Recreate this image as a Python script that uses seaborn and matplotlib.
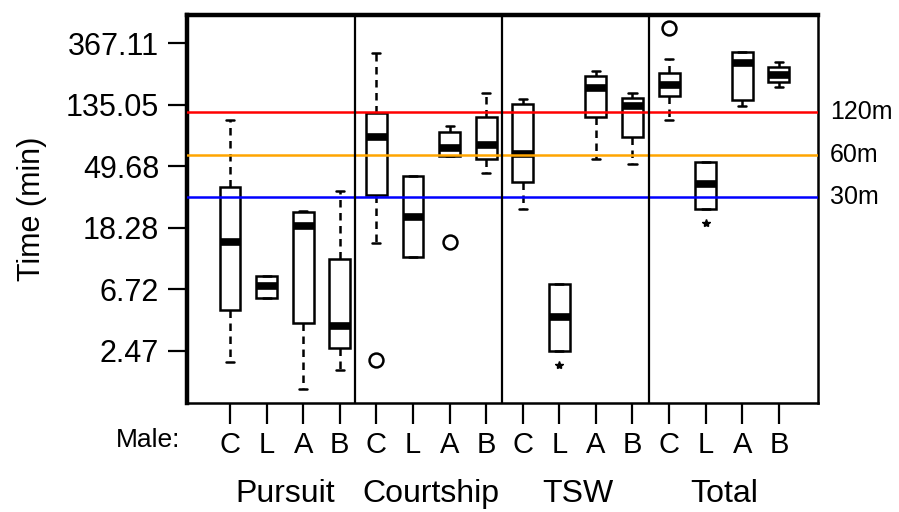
import numpy as np
import pandas as pd
import matplotlib
matplotlib.use("Agg")
import matplotlib.pyplot as plt
import seaborn as sns

# Groups and males along the x axis
groups = ["Pursuit", "Courtship", "TSW", "Total"]
males = ["C", "L", "A", "B"]

# five-number summaries (whislo, q1, median, q3, whishi), minutes
pursuit = [[2.06, 4.81, 14.5, 35.4, 105.0],
           [5.84, 5.84, 7.10, 8.35, 8.35],
           [1.33, 3.89, 18.8, 23.6, 24.0],
           [1.81, 2.59, 3.71, 11.0, 33.2]]
courtship = [[14.3, 31.1, 79.8, 118.0, 312.0],
             [11.4, 11.4, 21.8, 42.4, 42.4],
             [58.6, 58.6, 66.8, 86.6, 95.4],
             [44.5, 55.8, 70.1, 110.5, 163.0]]
tsw = [[24.8, 38.4, 60.6, 136.0, 148.0],
       [2.47, 2.47, 4.29, 7.33, 7.33],
       [55.8, 110.5, 177.0, 215.0, 233.0],
       [51.5, 79.8, 132.0, 150.0, 163.0]]
total = [[105.0, 155.0, 186.0, 226.0, 283.0],
         [24.8, 24.8, 37.2, 53.2, 53.2],
         [132.0, 146.0, 266.0, 317.0, 317.0],
         [180.0, 195.0, 219.0, 249.0, 270.0]]

# outliers: (group, male, value)
open_outliers = [("Courtship", "C", 2.13), ("Courtship", "A", 14.5), ("Total", "C", 469.0)]
star_outliers = [("TSW", "L", 1.97), ("Total", "L", 19.7)]

ref_lines = [120, 60, 30]
ref_labels = ["120m", "60m", "30m"]
ref_colors = ["#FF0000", "#FFA500", "#0000FF"]

yticks = [2.47, 6.72, 18.28, 49.68, 135.05, 367.11]

# long table for seaborn
rows = []
order = []
for g, summ in zip(groups, [pursuit, courtship, tsw, total]):
    for m, vals in zip(males, summ):
        key = f"{g} {m}"
        order.append(key)
        for v in vals:
            rows.append({"box": key, "time": v})
df = pd.DataFrame(rows)

sns.set_theme(style="ticks")
plt.rcParams["font.family"] = ["Liberation Sans", "DejaVu Sans"]
plt.rcParams["text.color"] = "black"
plt.rcParams["axes.labelcolor"] = "black"
plt.rcParams["xtick.color"] = "black"
plt.rcParams["ytick.color"] = "black"

fig = plt.figure(figsize=(8.99, 5.12), dpi=100)
ax = fig.add_axes([187 / 899, 1 - 403 / 512, (818 - 187) / 899, (403 - 15) / 512])

sns.boxplot(data=df, x="box", y="time", order=order, whis=np.inf, width=0.57,
            color="white", linecolor="black", linewidth=1.8, saturation=1,
            log_scale=True, showfliers=False, capwidths=0.22,
            medianprops=dict(linewidth=5.5, color="black"),
            whiskerprops=dict(linestyle=(0, (3, 2.2)), linewidth=1.8),
            capprops=dict(linewidth=1.8), ax=ax)

for g, m, v in open_outliers:
    ax.plot(order.index(f"{g} {m}"), v, marker="o", ms=10, mfc="none", mec="black", mew=1.8)
for g, m, v in star_outliers:
    ax.plot(order.index(f"{g} {m}"), v, marker="*", ms=6, color="black")

for val, lab, col in zip(ref_lines, ref_labels, ref_colors):
    ax.axhline(val, color=col, lw=1.8, zorder=5)
    ax.text(1.019, val, lab, transform=ax.get_yaxis_transform(), ha="left",
            va="center", fontsize=18, color="black")

# group separators
for xs in [3.43, 7.43, 11.45]:
    ax.axvline(xs, color="black", lw=1.6, zorder=6)

ax.set_xlim(-1.175, 16.07)
ax.set_ylim(1.06, 579)
ax.set_yticks(yticks)
ax.set_yticklabels([f"{t:.2f}" for t in yticks])
ax.minorticks_off()
ax.set_xticks(range(len(order)))
ax.set_xticklabels(males * len(groups))

ax.tick_params(axis="y", length=14, width=1.6, pad=6, labelsize=22, left=True, colors="black")
ax.tick_params(axis="x", length=15, width=1.6, pad=5, labelsize=21, bottom=True, colors="black")
ax.set_xlabel("")
ax.set_ylabel("Time (min)", fontsize=22, labelpad=14, color="black")

for side in ["left", "top"]:
    ax.spines[side].set_linewidth(3.2)
for side in ["right", "bottom"]:
    ax.spines[side].set_linewidth(1.8)
for side in ax.spines:
    ax.spines[side].set_color("black")
    ax.spines[side].set_visible(True)

# group names and "Male:" row label
xt = ax.get_xaxis_transform()
for i, g in enumerate(groups):
    ax.text(i * 4 + 1.5, -0.234, g, transform=xt, ha="center", va="center", fontsize=23)
ax.text(-2.24, -0.095, "Male:", transform=xt, ha="center", va="center", fontsize=19)

fig.savefig("out.png", dpi=100)
